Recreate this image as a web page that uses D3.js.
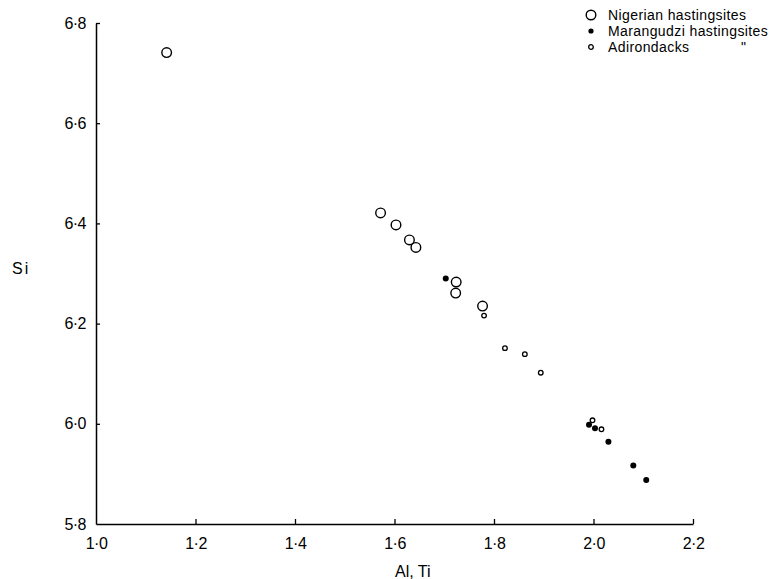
<!DOCTYPE html>
<html>
<head>
<meta charset="utf-8">
<script src="https://cdn.jsdelivr.net/npm/d3@7"></script>
<style>
body { margin: 0; background: #fff; }
text { font-family: "DejaVu Sans", sans-serif; fill: #000; }
</style>
</head>
<body>
<script>
// data (Al,Ti vs Si)
var nigerianX = [1.142, 1.572, 1.603, 1.630, 1.643, 1.724, 1.723, 1.777];
var nigerianY = [6.741, 6.421, 6.397, 6.367, 6.352, 6.283, 6.261, 6.235];
var marangudziX = [1.703, 1.991, 2.003, 2.030, 2.080, 2.106];
var marangudziY = [6.290, 5.998, 5.991, 5.964, 5.917, 5.888];
var adirondacksX = [1.780, 1.822, 1.862, 1.894, 1.998, 2.016];
var adirondacksY = [6.216, 6.151, 6.139, 6.102, 6.007, 5.989];
var xTicks = [1.0, 1.2, 1.4, 1.6, 1.8, 2.0, 2.2];
var yTicks = [5.8, 6.0, 6.2, 6.4, 6.6, 6.8];
var legendNames = ["Nigerian hastingsites", "Marangudzi hastingsites", "Adirondacks"];

var width = 772, height = 579;
var svg = d3.select("body").append("svg")
    .attr("width", width)
    .attr("height", height);

var x = d3.scaleLinear().domain([1.0, 2.2]).range([96, 693]);
var y = d3.scaleLinear().domain([5.8, 6.8]).range([524, 23]);

function fmt(v) {
    return v.toFixed(1).replace(".", "\u00b7");
}

// axes
var xAxis = d3.axisBottom(x).tickValues(xTicks).tickSizeInner(-5).tickSizeOuter(0)
    .tickPadding(14).tickFormat(fmt);
var gx = svg.append("g").attr("transform", "translate(0,524)").call(xAxis);
var yAxis = d3.axisLeft(y).tickValues(yTicks).tickSizeInner(-4).tickSizeOuter(0)
    .tickPadding(10).tickFormat(fmt);
var gy = svg.append("g").attr("transform", "translate(96,0)").call(yAxis);

[gx, gy].forEach(function (g) {
    g.select(".domain").attr("stroke", "#000").attr("stroke-width", 1.5);
    g.selectAll(".tick line").attr("stroke", "#000").attr("stroke-width", 1.3);
    g.selectAll(".tick text").style("font-size", "16px").style("font-family", "Liberation Sans, sans-serif")
        .attr("fill", "#000").attr("letter-spacing", "-0.5px");
});
gx.selectAll(".tick").filter(function (d) { return d === 1.0; }).select("line").remove();
gy.selectAll(".tick").filter(function (d) { return d === 5.8; }).select("line").remove();

// axis titles
svg.append("text").attr("x", 12).attr("y", 274).style("font-size", "16px")
    .style("font-family", "Liberation Sans, sans-serif").attr("letter-spacing", "2px").text("Si");
svg.append("text").attr("x", 395).attr("y", 577).style("font-size", "16px")
    .style("font-family", "Liberation Sans, sans-serif").text("Al, Ti");

function pairs(xs, ys) {
    return xs.map(function (d, i) { return [d, ys[i]]; });
}

svg.selectAll("circle.nig").data(pairs(nigerianX, nigerianY)).enter().append("circle")
    .attr("class", "nig")
    .attr("cx", function (d) { return x(d[0]); })
    .attr("cy", function (d) { return y(d[1]); })
    .attr("r", 4.8)
    .attr("fill", "none").attr("stroke", "#000").attr("stroke-width", 1.4);

svg.selectAll("circle.ada").data(pairs(adirondacksX, adirondacksY)).enter().append("circle")
    .attr("class", "ada")
    .attr("cx", function (d) { return x(d[0]); })
    .attr("cy", function (d) { return y(d[1]); })
    .attr("r", 2.3)
    .attr("fill", "none").attr("stroke", "#000").attr("stroke-width", 1.3);

svg.selectAll("circle.mar").data(pairs(marangudziX, marangudziY)).enter().append("circle")
    .attr("class", "mar")
    .attr("cx", function (d) { return x(d[0]); })
    .attr("cy", function (d) { return y(d[1]); })
    .attr("r", 3)
    .attr("fill", "#000");

// legend
var leg = svg.append("g").attr("transform", "translate(591,15)");
leg.append("circle").attr("cx", 0).attr("cy", 0).attr("r", 4.8)
    .attr("fill", "none").attr("stroke", "#000").attr("stroke-width", 1.4);
leg.append("circle").attr("cx", 0).attr("cy", 16).attr("r", 2.6).attr("fill", "#000");
leg.append("circle").attr("cx", 0).attr("cy", 32).attr("r", 2.3)
    .attr("fill", "none").attr("stroke", "#000").attr("stroke-width", 1.3);
leg.selectAll("text.lab").data(legendNames).enter().append("text")
    .attr("class", "lab")
    .attr("x", 17)
    .attr("y", function (d, i) { return i * 16 + 5; })
    .style("font-size", "14px")
    .style("font-family", "Liberation Sans, sans-serif")
    .attr("letter-spacing", "0.4px")
    .text(function (d) { return d; });
leg.append("text").attr("x", 150).attr("y", 37).style("font-size", "14px")
    .style("font-family", "Liberation Sans, sans-serif").text("\"");
</script>
</body>
</html>
